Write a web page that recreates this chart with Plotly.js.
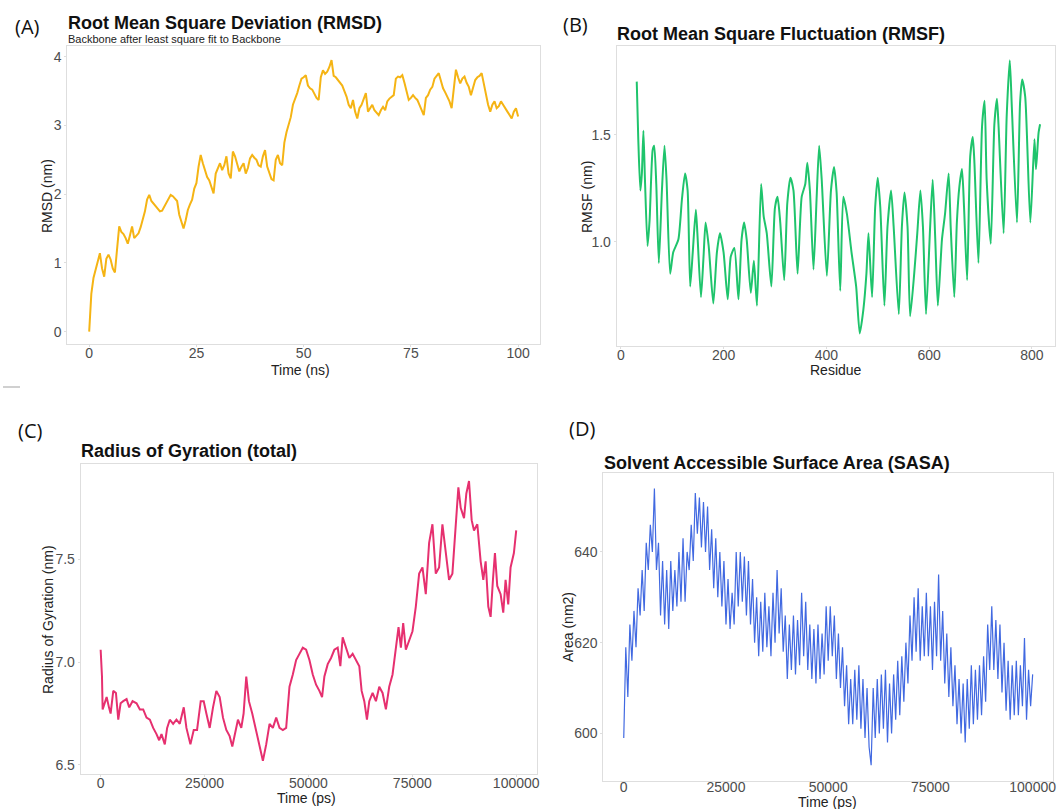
<!DOCTYPE html>
<html>
<head>
<meta charset="utf-8">
<script src="https://cdn.plot.ly/plotly-3.0.1.min.js"></script>
<style>html,body{margin:0;padding:0;background:#fff;}#chart{width:1057px;height:809px;}</style>
</head>
<body>
<div id="chart"></div>
<script>
// ---------------- DATA ----------------
// (A) RMSD, Backbone, time step 0.5 ns
const rmsdTimeStepNs = 0.5;
const rmsdValues = [
0.00,0.55,0.78,0.92,1.02,1.14,0.92,0.80,1.06,1.12,1.05,0.92,0.86,1.20,1.53,1.45,1.42,1.36,1.28,1.40,
1.53,1.36,1.40,1.43,1.52,1.62,1.75,1.92,1.99,1.90,1.86,1.82,1.79,1.75,1.76,1.82,1.87,1.93,1.99,1.97,
1.94,1.90,1.70,1.58,1.50,1.62,1.77,1.85,1.92,2.08,2.16,2.40,2.57,2.45,2.35,2.25,2.20,2.10,2.01,2.30,
2.38,2.45,2.35,2.42,2.55,2.30,2.23,2.62,2.55,2.42,2.33,2.40,2.45,2.30,2.38,2.52,2.57,2.53,2.50,2.42,
2.40,2.55,2.64,2.40,2.30,2.22,2.20,2.50,2.57,2.45,2.42,2.75,2.90,3.02,3.12,3.30,3.38,3.47,3.58,3.68,
3.70,3.73,3.58,3.54,3.52,3.45,3.40,3.37,3.70,3.80,3.75,3.78,3.85,3.95,3.72,3.70,3.66,3.62,3.58,3.50,
3.42,3.30,3.25,3.37,3.20,3.10,3.25,3.30,3.40,3.47,3.20,3.25,3.30,3.22,3.18,3.15,3.22,3.27,3.22,3.35,
3.39,3.42,3.44,3.68,3.71,3.70,3.73,3.62,3.50,3.37,3.40,3.44,3.40,3.37,3.30,3.22,3.15,3.40,3.44,3.52,
3.56,3.68,3.72,3.76,3.65,3.54,3.48,3.42,3.35,3.25,3.55,3.81,3.70,3.61,3.68,3.71,3.62,3.56,3.44,3.55,
3.66,3.70,3.72,3.76,3.60,3.45,3.30,3.20,3.30,3.35,3.25,3.28,3.35,3.30,3.24,3.20,3.15,3.10,3.20,3.25,
3.13
];

// (B) RMSF per residue
const rmsfResidue = [
31,34,38,41,44,47,52,56,62,65,69,74,80,85,89,96,102,112,119,125,
130,135,140,146,149,156,161,165,171,180,187,193,200,208,214,221,229,235,240,245,
253,259,265,273,278,284,293,300,305,310,318,324,330,336,344,352,359,363,368,375,
381,386,391,401,409,415,420,427,433,440,449,458,465,472,478,482,489,495,500,505,
513,519,526,531,541,547,552,558,563,571,577,583,588,594,602,607,612,617,625,631,
638,642,649,654,659,664,668,674,680,685,688,696,703,708,712,720,727,732,735,745,
751,757,761,771,777,781,787,797,805,808,813,816
];
const rmsfValues = [
1.75,1.48,1.24,1.32,1.52,1.29,0.98,1.10,1.43,1.45,1.27,0.90,1.24,1.45,1.29,0.85,0.95,1.01,1.20,1.32,
1.24,0.79,0.95,1.15,1.04,0.74,0.93,1.09,0.98,0.71,0.95,1.04,0.95,0.73,0.93,0.97,0.73,1.01,1.09,1.01,
0.76,0.91,0.70,1.27,1.12,1.04,0.79,1.16,1.21,1.10,0.82,1.18,1.30,1.24,0.85,1.21,1.27,1.37,1.24,0.87,
1.20,1.45,1.29,0.84,1.24,1.35,1.23,0.77,1.21,1.13,0.95,0.79,0.57,0.68,0.85,1.04,0.74,1.16,1.30,1.16,
0.70,1.07,1.24,1.07,0.66,1.07,1.23,1.07,0.65,0.85,1.04,1.24,1.07,0.66,1.07,1.29,1.01,0.70,1.01,1.13,
1.32,1.07,0.74,1.09,1.26,1.34,1.16,0.82,1.40,1.49,1.38,0.90,1.54,1.66,1.29,0.99,1.55,1.67,1.55,1.04,
1.59,1.85,1.63,1.09,1.65,1.76,1.68,1.09,1.48,1.34,1.51,1.55
];

// (C) Radius of gyration (total)
const rgTimePs = [
0,320,480,1040,1440,2000,2400,3040,3680,4240,4800,5440,6240,6880,7680,8640,9440,10240,11040,11840,
12640,13440,14080,14640,15440,16000,16640,17440,18240,19040,20000,20640,21600,22400,23200,24080,24800,25440,26240,27040,
27840,28640,29440,30240,31040,31680,32240,33040,33840,34400,35040,35680,36480,37280,38240,39040,39840,40640,41440,42240,
43040,43840,44640,45440,46240,47040,47840,48640,49440,50240,51040,51840,52640,53280,53840,54640,55440,56240,57040,57680,
58240,59040,59840,60640,61440,62240,62800,63440,64080,64640,65440,66240,67040,67840,68640,69440,70240,71040,71680,72240,
72800,73440,74240,75040,75840,76640,77440,78240,79040,79840,80640,81440,82240,83040,83840,84640,85440,86080,86640,87440,
88000,88640,89280,89840,90640,91440,92080,92640,93280,93840,94400,94880,95440,96240,96880,97440,98080,98640,99440,100000
];
const rgValues = [
7.06,6.93,6.77,6.81,6.83,6.78,6.75,6.86,6.85,6.72,6.80,6.81,6.82,6.78,6.81,6.80,6.77,6.77,6.73,6.72,
6.68,6.65,6.62,6.65,6.60,6.68,6.72,6.70,6.72,6.70,6.78,6.68,6.60,6.67,6.67,6.81,6.81,6.75,6.68,6.78,
6.86,6.83,6.73,6.67,6.64,6.59,6.64,6.72,6.68,6.75,6.93,6.81,6.75,6.68,6.59,6.52,6.60,6.70,6.68,6.73,
6.68,6.67,6.68,6.88,6.94,7.01,7.04,7.07,7.06,7.01,6.94,6.89,6.86,6.83,6.93,6.99,7.02,7.06,7.07,6.98,
7.12,7.07,7.02,7.04,7.01,6.98,6.86,6.81,6.72,6.81,6.85,6.81,6.88,6.85,6.77,6.88,6.94,7.06,7.17,7.07,
7.19,7.06,7.11,7.15,7.27,7.43,7.46,7.33,7.58,7.67,7.43,7.46,7.67,7.54,7.40,7.43,7.69,7.85,7.75,7.70,
7.82,7.88,7.69,7.64,7.67,7.49,7.40,7.49,7.27,7.22,7.40,7.53,7.37,7.33,7.24,7.40,7.28,7.46,7.53,7.64
];

// (D) SASA, time step 500 ps
const sasaTimeStepPs = 500;
const sasaValues = [
599,619,608,624,616,627,619,632,626,636,627,642,636,646,640,654,636,642,626,638,
624,636,623,638,627,636,628,640,629,643,629,640,636,646,638,653,644,652,641,651,
640,650,636,645,632,643,630,640,628,638,624,634,623,631,624,640,628,640,629,639,
626,638,624,634,620,630,617,629,618,631,619,628,617,631,620,636,622,632,618,626,
612,624,614,626,613,625,615,631,617,629,614,624,612,623,611,624,612,622,613,628,
616,628,617,626,612,622,610,619,606,615,602,612,602,614,603,615,601,612,599,610,
597,593,610,599,612,600,613,601,614,598,611,600,613,603,616,604,617,607,620,611,
626,616,630,618,632,616,628,617,631,617,628,614,629,617,635,616,627,611,622,608,
619,606,615,602,612,600,611,598,612,601,615,602,614,603,615,604,617,607,624,614,
628,614,625,612,624,609,620,605,616,603,615,604,616,604,615,606,621,603,614,606,
613
];

// ---------------- HELPERS ----------------
const W = 1057, H = 809;
const rmsdTime = rmsdValues.map((_, i) => i * rmsdTimeStepNs);
const sasaTime = sasaValues.map((_, i) => i * sasaTimeStepPs);
const px = x => x / W;
const py = y => 1 - y / H;

const FONT = 'Liberation Sans, Arial, Helvetica, sans-serif';
const tickFont = {family: FONT, size: 14, color: '#4d4d4d'};
const boxColor = '#dedede';

function axisBase(extra) {
  return Object.assign({
    showline: true, mirror: true, linecolor: boxColor, linewidth: 1,
    showgrid: false, zeroline: false,
    ticks: 'outside', ticklen: 2, tickcolor: boxColor,
    tickfont: tickFont, fixedrange: true
  }, extra);
}
function xAxis(extra) { return axisBase(Object.assign({ticklabelstandoff: -6}, extra)); }

const traces = [
  {x: rmsdTime, y: rmsdValues, xaxis: 'x', yaxis: 'y', type: 'scatter', mode: 'lines',
   line: {color: '#f5b414', width: 2}, hoverinfo: 'skip'},
  {x: rmsfResidue, y: rmsfValues, xaxis: 'x2', yaxis: 'y2', type: 'scatter', mode: 'lines',
   line: {color: '#1fc46c', width: 2, shape: 'spline', smoothing: 0.6}, hoverinfo: 'skip'},
  {x: rgTimePs, y: rgValues, xaxis: 'x3', yaxis: 'y3', type: 'scatter', mode: 'lines',
   line: {color: '#e6306f', width: 2}, hoverinfo: 'skip'},
  {x: sasaTime, y: sasaValues, xaxis: 'x4', yaxis: 'y4', type: 'scatter', mode: 'lines',
   line: {color: '#4169e1', width: 1.2}, hoverinfo: 'skip'}
];

function ann(text, x, y, opts) {
  return Object.assign({text: text, xref: 'paper', yref: 'paper', x: px(x), y: py(y),
    showarrow: false, xanchor: 'center', yanchor: 'middle',
    font: {family: FONT, size: 14, color: '#222'}}, opts || {});
}
const titleFont = {family: FONT, size: 18, color: '#111', weight: 'bold'};
const panelFont = {family: 'Open Sans, Liberation Sans, sans-serif', size: 20, color: '#111'};

const annotations = [
  // panel labels
  ann('(A)', 13, 27, {xanchor: 'left', font: panelFont}),
  ann('(B)', 561, 25, {xanchor: 'left', font: panelFont}),
  ann('(C)', 16, 430, {xanchor: 'left', font: panelFont}),
  ann('(D)', 567, 428, {xanchor: 'left', font: panelFont}),
  // plot titles
  ann('<b>Root Mean Square Deviation (RMSD)</b>', 66, 23, {xanchor: 'left', font: titleFont}),
  ann('Backbone after least square fit to Backbone', 66, 39, {xanchor: 'left', font: {family: FONT, size: 11, color: '#222'}}),
  ann('<b>Root Mean Square Fluctuation (RMSF)</b>', 615, 34, {xanchor: 'left', font: titleFont}),
  ann('<b>Radius of Gyration (total)</b>', 79, 451, {xanchor: 'left', font: titleFont}),
  ann('<b>Solvent Accessible Surface Area (SASA)</b>', 602, 463, {xanchor: 'left', font: titleFont}),
  // axis titles
  ann('Time (ns)', 300, 370),
  ann('RMSD (nm)', 47, 196, {textangle: -90}),
  ann('Residue', 836, 370),
  ann('RMSF (nm)', 587, 197, {textangle: -90}),
  ann('Time (ps)', 306, 798),
  ann('Radius of Gyration (nm)', 48, 620, {textangle: -90}),
  ann('Time (ps)', 827, 802),
  ann('Area (nm2)', 568, 627, {textangle: -90})
];

const layout = {
  width: W, height: H,
  margin: {l: 0, r: 0, t: 0, b: 0},
  paper_bgcolor: '#fff', plot_bgcolor: '#fff',
  showlegend: false,
  font: {family: FONT},
  xaxis: xAxis({domain: [px(67.3), px(540)], range: [-5.1, 105.1], tickvals: [0, 25, 50, 75, 100], anchor: 'y'}),
  yaxis: axisBase({domain: [py(344), py(46)], range: [-0.18, 4.155], tickvals: [0, 1, 2, 3, 4], anchor: 'x'}),
  xaxis2: xAxis({domain: [px(616.7), px(1055)], range: [-8, 845], tickvals: [0, 200, 400, 600, 800], anchor: 'y2'}),
  yaxis2: axisBase({domain: [py(346), py(46)], range: [0.511, 1.917], tickvals: [1.0, 1.5], tickformat: '.1f', anchor: 'x2'}),
  xaxis3: xAxis({domain: [px(80.7), px(537)], range: [-4800, 105000], tickvals: [0, 25000, 50000, 75000, 100000], tickformat: 'd', anchor: 'y3'}),
  yaxis3: axisBase({domain: [py(774), py(464)], range: [6.456, 7.963], tickvals: [6.5, 7.0, 7.5], tickformat: '.1f', anchor: 'x3'}),
  xaxis4: xAxis({domain: [px(603.3), px(1052.7)], range: [-5000, 104900], tickvals: [0, 25000, 50000, 75000, 100000], tickformat: 'd', anchor: 'y4', ticklabelstandoff: -9}),
  yaxis4: axisBase({domain: [py(781), py(473)], range: [589.5, 657.4], tickvals: [600, 620, 640], anchor: 'x4'}),
  annotations: annotations,
  shapes: [
    {type: 'line', xref: 'paper', yref: 'paper', x0: px(3), x1: px(20), y0: py(387), y1: py(387),
     line: {color: '#d0d0d0', width: 2}}
  ]
};

Plotly.newPlot('chart', traces, layout, {staticPlot: true, displayModeBar: false});
</script>
</body>
</html>
